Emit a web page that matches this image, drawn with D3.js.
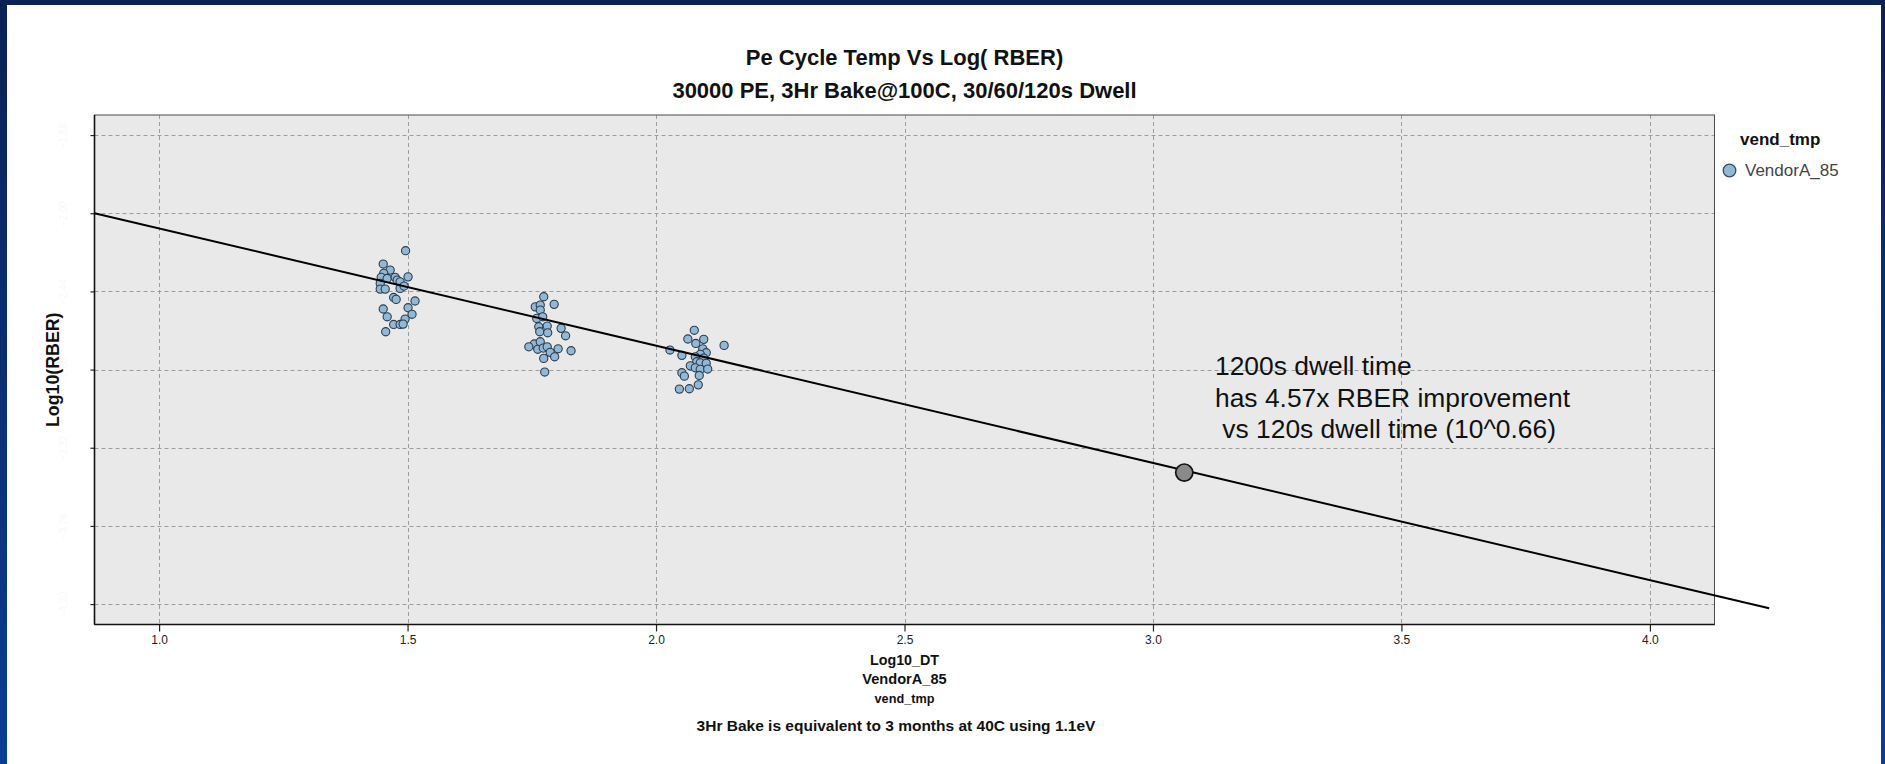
<!DOCTYPE html>
<html>
<head>
<meta charset="utf-8">
<script src="https://cdn.jsdelivr.net/npm/d3@7"></script>
<style>
  html, body { margin: 0; padding: 0; background: #ffffff; }
  svg { display: block; }
  text { font-family: "Liberation Sans", Arial, Helvetica, sans-serif; }
</style>
</head>
<body>
<svg id="chart" width="1885" height="764"></svg>
<script>
// ---- data -------------------------------------------------------------
const xTicks = [1.0, 1.5, 2.0, 2.5, 3.0, 3.5, 4.0];
const yTicks = [-1.56, -2.00, -2.44, -2.88, -3.32, -3.76, -4.20];
const xDomain = [0.87, 4.13];
const yDomain = [-4.315, -1.447];

// [Log10_DT, Log10(RBER)] per block, grouped by dwell time
const dwell30s = [
  [1.496, -2.211], [1.451, -2.286], [1.465, -2.320], [1.452, -2.338], [1.447, -2.361],
  [1.459, -2.367], [1.475, -2.361], [1.479, -2.376], [1.485, -2.386], [1.501, -2.358],
  [1.445, -2.395], [1.445, -2.427], [1.455, -2.427], [1.485, -2.423], [1.493, -2.410],
  [1.472, -2.474], [1.477, -2.485], [1.515, -2.494], [1.451, -2.539], [1.501, -2.532],
  [1.459, -2.583], [1.509, -2.569], [1.495, -2.596], [1.472, -2.626], [1.485, -2.626],
  [1.491, -2.624], [1.456, -2.667]
];
const dwell60s = [
  [1.774, -2.470], [1.757, -2.527], [1.767, -2.517], [1.795, -2.513], [1.767, -2.545],
  [1.760, -2.592], [1.772, -2.583], [1.764, -2.639], [1.781, -2.635], [1.809, -2.648],
  [1.766, -2.667], [1.782, -2.673], [1.818, -2.690], [1.755, -2.736], [1.744, -2.752],
  [1.767, -2.723], [1.762, -2.766], [1.773, -2.759], [1.781, -2.752], [1.803, -2.763],
  [1.787, -2.783], [1.829, -2.774], [1.796, -2.808], [1.774, -2.817], [1.776, -2.894]
];
const dwell120s = [
  [2.077, -2.659], [2.064, -2.708], [2.096, -2.710], [2.080, -2.733], [2.137, -2.744],
  [2.094, -2.763], [2.028, -2.770], [2.101, -2.785], [2.089, -2.794], [2.052, -2.800],
  [2.079, -2.808], [2.096, -2.815], [2.082, -2.836], [2.089, -2.842], [2.101, -2.845],
  [2.069, -2.859], [2.079, -2.870], [2.089, -2.879], [2.104, -2.877], [2.052, -2.898],
  [2.057, -2.917], [2.087, -2.913], [2.085, -2.966], [2.047, -2.990], [2.067, -2.988]
];

// fitted trend: 0.66 decades of RBER per decade of dwell time
const fitSlope = -0.66;
const fitIntercept = -1.4255;
const fitRange = [0.87, 4.24];

// projected 1200s dwell point on the trend
const projected = [3.063, -3.46];

const annotationLines = ["1200s dwell time", "has 4.57x RBER improvement", " vs 120s dwell time (10^0.66)"];
const xTitleLines = ["Log10_DT", "VendorA_85", "vend_tmp"];
const legendTitle = "vend_tmp";
const legendItems = ["VendorA_85"];

// ---- layout -----------------------------------------------------------
const W = 1885, H = 764;
const plot = { left: 94.5, right: 1714.5, top: 115, bottom: 624.5 };
const cx = (plot.left + plot.right) / 2;
const cy = (plot.top + plot.bottom) / 2;

const svg = d3.select("#chart");

// page frame
const defs = svg.append("defs");
const grad = defs.append("linearGradient").attr("id", "frameGrad")
  .attr("x1", 0).attr("y1", 0).attr("x2", 0).attr("y2", 1);
grad.append("stop").attr("offset", "0%").attr("stop-color", "#0a2254");
grad.append("stop").attr("offset", "100%").attr("stop-color", "#0c3c94");
svg.append("rect").attr("width", W).attr("height", H).attr("fill", "url(#frameGrad)");
svg.append("rect").attr("x", 7).attr("y", 5).attr("width", 1874).attr("height", H - 5).attr("fill", "#ffffff");

const x = d3.scaleLinear().domain(xDomain).range([plot.left, plot.right]);
const y = d3.scaleLinear().domain(yDomain).range([plot.bottom, plot.top]);

// panel
svg.append("rect")
  .attr("x", plot.left).attr("y", plot.top)
  .attr("width", plot.right - plot.left).attr("height", plot.bottom - plot.top)
  .attr("fill", "#e9e9e9");

// grid
const grid = svg.append("g").attr("stroke", "#9d9d9d").attr("stroke-width", 1).attr("stroke-dasharray", "4,3");
grid.selectAll("line.v").data(xTicks).join("line").attr("class", "v")
  .attr("x1", d => Math.round(x(d)) + 0.5).attr("x2", d => Math.round(x(d)) + 0.5)
  .attr("y1", plot.top).attr("y2", plot.bottom);
grid.selectAll("line.h").data(yTicks).join("line").attr("class", "h")
  .attr("y1", d => Math.round(y(d)) + 0.5).attr("y2", d => Math.round(y(d)) + 0.5)
  .attr("x1", plot.left).attr("x2", plot.right);

// axes
const xAxis = svg.append("g").attr("transform", `translate(0,${plot.bottom})`)
  .call(d3.axisBottom(x).tickValues(xTicks).tickFormat(d3.format(".1f")).tickSize(7).tickPadding(4));
xAxis.select(".domain").remove();
xAxis.selectAll(".tick line").attr("stroke", "#222").attr("stroke-width", 1.2);
xAxis.selectAll(".tick text").attr("fill", "#222").style("font-size", "12px")
  .style("font-family", '"Liberation Sans", Arial, sans-serif');

// y tick labels are printed almost white on this chart
const yAxis = svg.append("g").attr("transform", `translate(${plot.left},0)`)
  .call(d3.axisLeft(y).tickValues(yTicks).tickFormat(d3.format(".2f")).tickSize(4).tickPadding(22));
yAxis.select(".domain").remove();
yAxis.selectAll(".tick line").attr("stroke", "#222").attr("stroke-width", 1.2);
yAxis.selectAll(".tick text").attr("fill", "#f7f7f7").style("font-size", "10px")
  .attr("text-anchor", "middle").attr("dy", 0)
  .attr("transform", "rotate(-90)")
  .attr("x", 0).attr("y", -28);

// panel border
svg.append("rect")
  .attr("x", plot.left).attr("y", plot.top)
  .attr("width", plot.right - plot.left).attr("height", plot.bottom - plot.top)
  .attr("fill", "none").attr("stroke", "#4a4a4a").attr("stroke-width", 1);
svg.append("line").attr("x1", plot.left).attr("x2", plot.left).attr("y1", plot.top).attr("y2", plot.bottom)
  .attr("stroke", "#111").attr("stroke-width", 1.6);
svg.append("line").attr("x1", plot.left).attr("x2", plot.right).attr("y1", plot.bottom).attr("y2", plot.bottom)
  .attr("stroke", "#111").attr("stroke-width", 1.6);

// points
const allPoints = [].concat(dwell30s, dwell60s, dwell120s);
svg.append("g").selectAll("circle").data(allPoints).join("circle")
  .attr("cx", d => x(d[0])).attr("cy", d => y(d[1])).attr("r", 4.1)
  .attr("fill", "#92b8d6").attr("stroke", "#2c3d4d").attr("stroke-width", 1.1);

// trend line
const fitData = fitRange.map(v => [v, fitIntercept + fitSlope * v]);
svg.append("path").datum(fitData)
  .attr("d", d3.line().x(d => x(d[0])).y(d => y(d[1])))
  .attr("fill", "none").attr("stroke", "#000").attr("stroke-width", 2);

// projected point
svg.append("circle").attr("cx", x(projected[0])).attr("cy", y(projected[1])).attr("r", 8.6)
  .attr("fill", "#8a8a8a").attr("stroke", "#141414").attr("stroke-width", 1.7);

// annotation
const ann = svg.append("text").attr("x", 1215).attr("y", 375)
  .style("font-size", "26.4px").attr("fill", "#111").attr("xml:space", "preserve").style("white-space", "pre");
ann.selectAll("tspan").data(annotationLines).join("tspan")
  .attr("x", 1215).attr("y", (d, i) => 375 + i * 31.5).text(d => d);

// titles
svg.append("text").attr("x", cx).attr("y", 65).attr("text-anchor", "middle")
  .style("font-size", "22px").style("font-weight", "bold").attr("fill", "#111")
  .text("Pe Cycle Temp Vs Log( RBER)");
svg.append("text").attr("x", cx).attr("y", 98).attr("text-anchor", "middle")
  .style("font-size", "22px").style("font-weight", "bold").attr("fill", "#111")
  .text("30000 PE, 3Hr Bake@100C, 30/60/120s Dwell");

// x title block
const xtSizes = [14.3, 14.6, 12.7];
const xtY = [665, 684, 703];
xTitleLines.forEach((t, i) => {
  svg.append("text").attr("x", cx).attr("y", xtY[i]).attr("text-anchor", "middle")
    .style("font-size", xtSizes[i] + "px").style("font-weight", "bold").attr("fill", "#111").text(t);
});
svg.append("text").attr("x", 896).attr("y", 731).attr("text-anchor", "middle")
  .style("font-size", "15.5px").style("font-weight", "bold").attr("fill", "#111")
  .text("3Hr Bake is equivalent to 3 months at 40C using 1.1eV");

// y title
svg.append("text").attr("transform", `translate(59,${cy}) rotate(-90)`).attr("text-anchor", "middle")
  .style("font-size", "17.8px").style("font-weight", "bold").attr("fill", "#111")
  .text("Log10(RBER)");

// legend
svg.append("text").attr("x", 1740).attr("y", 144.5)
  .style("font-size", "17px").style("font-weight", "bold").attr("fill", "#111").text(legendTitle);
const leg = svg.append("g").selectAll("g").data(legendItems).join("g")
  .attr("transform", (d, i) => `translate(1729.5,${170.5 + i * 24})`);
leg.append("circle").attr("r", 6.3).attr("fill", "#92b8d6").attr("stroke", "#3a4a5a").attr("stroke-width", 1.3);
leg.append("text").attr("x", 15.5).attr("y", 5.8).style("font-size", "17px").attr("fill", "#444").text(d => d);
</script>
</body>
</html>
